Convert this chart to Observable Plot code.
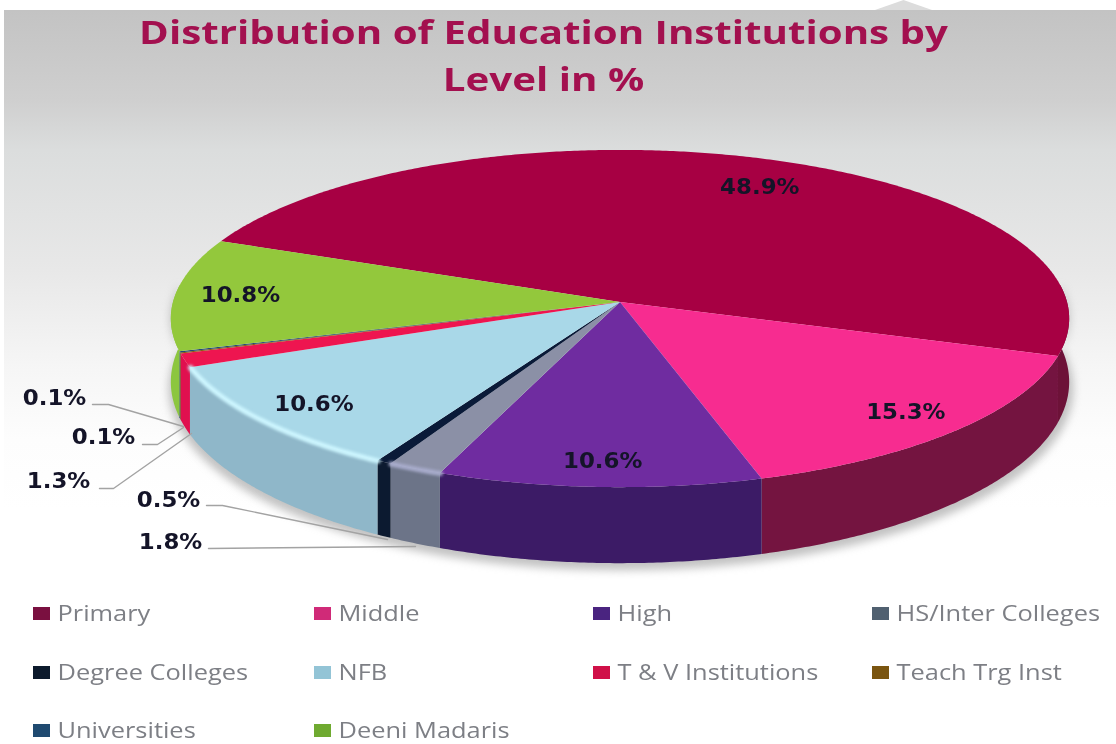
<!DOCTYPE html>
<html><head><meta charset="utf-8">
<script src="https://cdn.jsdelivr.net/npm/d3@7"></script>
<script src="https://cdn.jsdelivr.net/npm/@observablehq/plot@0.6"></script>
<style>
html,body{margin:0;padding:0;background:#fff;overflow:hidden}
#wrap{position:relative;width:1116px;height:744px}
#panel{position:absolute;left:4px;top:10px;right:0;height:500px;background:linear-gradient(#c3c3c3 0,#cfcfcf 90px,#dbdddd 140px,#e8e8e8 260px,#f6f6f6 360px,#fdfdfd 430px,#fff 500px)}
#tri{position:absolute;left:875px;top:0;width:57px;height:10px;background:#dcdcdc;clip-path:polygon(50% 0,100% 100%,0 100%)}
#chart{position:absolute;left:0;top:0}
</style></head><body><div id="wrap"><div id="panel"></div><div id="tri"></div><div id="chart"></div></div>
<script>
const categories=["Primary","Middle","High","HS/Inter Colleges","Degree Colleges","NFB","T & V Institutions","Teach Trg Inst","Universities","Deeni Madaris"];
const shares=[48.9,15.3,10.6,1.8,0.5,10.6,1.3,0.1,0.1,10.8];
const topColors=["#a70043","#f72c90","#6f2ca0","#8b90a6","#0a1a38","#a9d8e8","#ee1550","#8a5a10","#1f4a78","#93c83c"];
const wallColors=["#6d1238","#741440","#3c1b66","#6c7488","#0c1a30","#8fb7c9","#e0104f","#6a4510","#173a60","#8cc63f"];
const rimColors=[null,null,null,"#a8accc",null,"#cdf6ff",null,null,null,null];
const legendColors=["#7a1040","#d02a78","#4a2480","#506070","#0c1a2c","#93c4d6","#d01048","#7a5510","#1f4a70","#6faa30"];
const title=["Distribution of Education Institutions by","Level in %"];
const startAngle=-67.8;
const inLabelIdx=[0,1,2,5,9], inLabelR=[0.815,0.86,0.87,0.865,0.855], inLabelTurn=[4.0,0,0,-0.4,0.2];
const outLabels=[["0.1%",54,398],["0.1%",103,437],["1.3%",58,481],["0.5%",168,500],["1.8%",170,542]];
const leaders=[[[92,404],[108,404],[183,426]],[[142,444],[157,444],[183,427]],[[99,488],[113,488],[191,433]],[[206,505],[222,505],[387,539]],[[208,548],[415,546]]];
const legendCols=[33,314,593,872], legendRows=[614,673,731];

// perspective projection of the pie's disk
const cx=620,cy=302,C=447,A=167,B=0.098;
const proj=(deg,r=1)=>{const t=deg*Math.PI/180,u=r*Math.sin(t),v=-r*Math.cos(t),w=1-B*v;return [cx+C*u/w,cy+A*v/w];};
const depthAt=deg=>62-14*Math.cos(deg*Math.PI/180);
let acc=startAngle;
const slices=shares.map((s,i)=>{const a0=acc;acc+=s*3.6;return {name:categories[i],i,a0,a1:acc,mid:(a0+acc)/2,share:s};});
const sample=(a0,a1)=>{const n=Math.max(2,Math.ceil((a1-a0)/0.5)+1);return d3.range(n).map(k=>a0+(a1-a0)*k/(n-1));};
const topPts=slices.flatMap(s=>sample(s.a0,s.a1).map(a=>{const p=proj(a);return {k:s.i,x2:p[0],y2:p[1],x1:cx,y1:cy,f:topColors[s.i]};}));
const visLo=84,visHi=276;
const wallPts=slices.flatMap(s=>{const out=[];[[s.a0,s.a1],[s.a0+360,s.a1+360]].forEach(([l,h])=>{const a=Math.max(l,visLo),b=Math.min(h,visHi);if(b>a)sample(a,b).forEach(t=>{const p=proj(t);out.push({k:s.i,a:t,x1:p[0],y1:p[1],x2:p[0],y2:p[1]+depthAt(t),f:wallColors[s.i],c:rimColors[s.i]});});});return out;});
const shadowPts=sample(84,276).map(t=>{const p=proj(t);return {x1:p[0],y1:p[1],x2:p[0]+(Math.sin(t*Math.PI/180)>0?4:-2),y2:p[1]+depthAt(t)+7};});
const legendData=categories.map((c,i)=>({c,i,x:legendCols[i%4],y:legendRows[Math.floor(i/4)]}));
const inLabels=inLabelIdx.map((ix,j)=>{const p=proj(slices[ix].mid+inLabelTurn[j],inLabelR[j]);return {t:shares[ix].toFixed(1)+"%",x:p[0],y:p[1]};});
const labelFont='"DejaVu Sans"';
const plot=Plot.plot({width:1116,height:744,margin:0,style:{background:"transparent"},
 x:{domain:[0,1116],range:[0,1116],axis:null},y:{domain:[0,744],range:[0,744],axis:null},
 marks:[
  Plot.area(shadowPts,{x1:"x1",y1:"y1",x2:"x2",y2:"y2",fill:"#9a9a9a",fillOpacity:0.6,imageFilter:"blur(4px)"}),
  Plot.area(wallPts,{x1:"x1",y1:"y1",x2:"x2",y2:"y2",z:"k",fill:d=>d.f,imageFilter:"blur(0.6px)"}),
  Plot.area(topPts,{x1:"x1",y1:"y1",x2:"x2",y2:"y2",z:"k",fill:d=>d.f,imageFilter:"blur(0.6px)"}),
  Plot.line(wallPts.filter(d=>d.c),{x:"x1",y:"y1",z:"k",stroke:d=>d.c,strokeWidth:5,imageFilter:"blur(1.5px)"}),
  ...leaders.map(l=>Plot.line(l,{x:d=>d[0],y:d=>d[1],stroke:"#a3a3a3",strokeWidth:1.4})),
  Plot.text(inLabels,{className:"lab",x:"x",y:"y",text:"t",fontFamily:labelFont,fontWeight:"bold",fontSize:21,fill:"#141428",imageFilter:"blur(0.4px)"}),
  Plot.text(outLabels,{className:"lab",x:d=>d[1],y:d=>d[2],text:d=>d[0],fontFamily:labelFont,fontWeight:"bold",fontSize:21,fill:"#141428",imageFilter:"blur(0.4px)"}),
  Plot.text(title,{className:"ttl",x:()=>543,y:(d,i)=>i?80:33,text:d=>d,fontFamily:"Open Sans",fontWeight:"bold",fontSize:32.5,fill:"#a3104f",imageFilter:"blur(0.4px)"}),
  Plot.rect(legendData,{x1:d=>d.x,x2:d=>d.x+17,y1:d=>d.y-7,y2:d=>d.y+6,fill:d=>legendColors[d.i],imageFilter:"blur(0.5px)"}),
  Plot.text(legendData,{className:"leg",x:d=>d.x+24,y:"y",text:"c",textAnchor:"start",fontFamily:"Open Sans",fontSize:21,fill:"#7d7f85",imageFilter:"blur(0.4px)"})
 ]});
document.getElementById("chart").appendChild(plot);
const stretch=(cls,f)=>d3.select(plot).selectAll("."+cls+" text").each(function(){this.setAttribute("textLength",this.getComputedTextLength()*f);this.setAttribute("lengthAdjust","spacingAndGlyphs");});
stretch("ttl",1.238);stretch("leg",1.21);stretch("lab",1.09);
</script></body></html>
